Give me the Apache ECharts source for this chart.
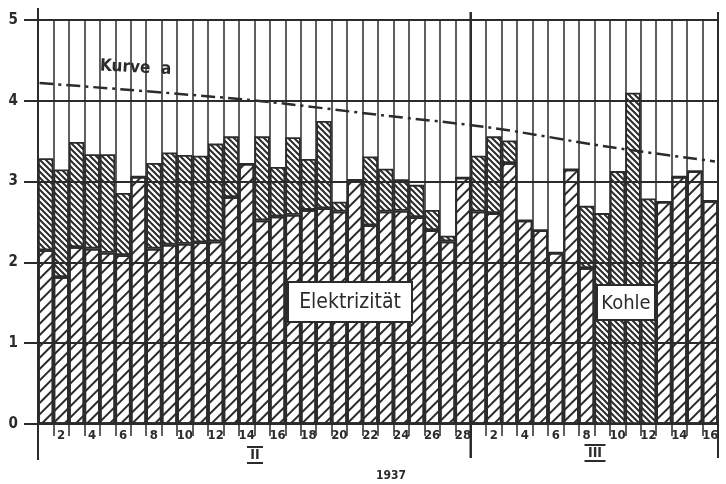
<!DOCTYPE html>
<html><head><meta charset="utf-8">
<script src="https://cdn.jsdelivr.net/npm/echarts@6/dist/echarts.min.js"></script>
<style>html,body{margin:0;padding:0;background:#fff}#c{width:726px;height:484px}</style>
</head><body><div id="c"></div>
<script>
// ---- data ----
const days = ['1','2','3','4','5','6','7','8','9','10','11','12','13','14','15','16','17','18','19','20','21','22','23','24','25','26','27','28',
              '1','2','3','4','5','6','7','8','9','10','11','12','13','14','15','16'];
const elektrizitaet = [2.15,1.82,2.19,2.17,2.12,2.09,3.06,2.17,2.22,2.23,2.25,2.26,2.81,3.22,2.52,2.57,2.59,2.65,2.67,2.63,3.02,2.46,2.63,2.64,2.56,2.40,2.26,3.05,
                       2.63,2.61,3.23,2.52,2.40,2.12,3.15,1.93,0,0,0,0,2.75,3.06,3.13,2.76];
const kohle = [1.14,1.33,1.30,1.17,1.22,0.77,0,1.06,1.14,1.10,1.07,1.21,0.75,0,1.04,0.61,0.96,0.63,1.08,0.12,0,0.85,0.53,0.39,0.40,0.25,0.07,0,
               0.69,0.95,0.28,0,0,0,0,0.77,2.61,3.13,4.10,2.79,0,0,0,0];
const kurveX = [0.1, 13.7, 22.3, 29.2, 36.9, 43.8];
const kurveY = [4.22, 4.01, 3.82, 3.67, 3.43, 3.25];
const yTicks = [0,1,2,3,4,5];
const months = ['II','III'];
const yearLabel = '1937';

// ---- chart ----
const INK = '#2b2b2b';
const FONT = 'DejaVu Sans Condensed';
const chart = echarts.init(document.getElementById('c'), null, {renderer:'canvas'});
const kurveData = kurveX.map((x,i)=>[x, kurveY[i]]);

function hatch(p, w){
  const c = document.createElement('canvas'); c.width = p; c.height = p;
  const g = c.getContext('2d'); g.strokeStyle = INK; g.lineWidth = w;
  g.beginPath();
  g.moveTo(-1, -1); g.lineTo(p+1, p+1);
  g.moveTo(p-1, -1); g.lineTo(p+1, 1);
  g.moveTo(-1, p-1); g.lineTo(1, p+1);
  g.stroke();
  return {image: c, repeat: 'repeat'};
}

chart.setOption({
  animation:false,
  backgroundColor:'#fff',
  grid:{left:38,right:8,top:20,bottom:60},
  xAxis:[{
    type:'category', data:days, boundaryGap:true,
    axisLine:{show:true,lineStyle:{color:INK,width:2}},
    axisTick:{show:true,interval:0,length:12,lineStyle:{color:INK,width:1.5}},
    axisLabel:{interval:(i,v)=>Number(v)%2===0, color:INK, fontFamily:FONT, fontWeight:'bold', fontSize:13, margin:5},
    splitLine:{show:true,interval:0,lineStyle:{color:INK,width:1.5}}
  },{
    type:'value', min:0, max:days.length, show:false
  }],
  yAxis:{
    type:'value', min:yTicks[0], max:yTicks[yTicks.length-1], interval:1,
    axisLine:{show:true,lineStyle:{color:INK,width:2}},
    axisTick:{show:true,length:14,lineStyle:{color:INK,width:2}},
    axisLabel:{color:INK,fontFamily:FONT,fontWeight:'bold',fontSize:15,margin:20,formatter:v=>String(v)},
    splitLine:{show:true,lineStyle:{color:INK,width:2}}
  },
  series:[{
    name:'Elektrizität', type:'bar', stack:'a', data:elektrizitaet, barWidth:'100%', barCategoryGap:'0%',
    itemStyle:{color:'rgba(255,255,255,0)',borderColor:INK,borderWidth:1.8,
      decal:{symbol:'rect',symbolSize:1,dashArrayX:[1,0],dashArrayY:[2,6],rotation:-Math.PI/4,color:INK,backgroundColor:'rgba(0,0,0,0)'}},
    z:2
  },{
    name:'Kohle', type:'bar', stack:'a', data:kohle, barWidth:'100%', barCategoryGap:'0%',
    itemStyle:{color:hatch(6,2),borderColor:INK,borderWidth:1.8},
    z:2
  },{
    name:'Kurve a', type:'line', xAxisIndex:1, data:kurveData, symbol:'none', smooth:0.3,
    lineStyle:{color:INK,width:2.5,type:[14,5,3,5]}, z:5
  }]
});

// ---- annotations ----
const x0 = chart.convertToPixel({xAxisIndex:1}, 0);
const x28 = chart.convertToPixel({xAxisIndex:1}, 28);
const xEnd = chart.convertToPixel({xAxisIndex:1}, days.length);
const yTop = chart.convertToPixel({yAxisIndex:0}, 5);
const yBot = chart.convertToPixel({yAxisIndex:0}, 0);
function vline(x, y1, y2, w){return {type:'line',shape:{x1:x,y1:y1,x2:x,y2:y2},style:{stroke:INK,lineWidth:w},z:20};}
function roman(t, cx, cy){
  const w = t.length*5+6;
  return [
    {type:'text',x:cx,y:cy,style:{text:t,fill:INK,font:'bold 14px '+FONT,align:'center',verticalAlign:'middle'},z:20},
    {type:'line',shape:{x1:cx-w/2,y1:cy-8,x2:cx+w/2,y2:cy-8},style:{stroke:INK,lineWidth:2},z:20},
    {type:'line',shape:{x1:cx-w/2,y1:cy+8,x2:cx+w/2,y2:cy+8},style:{stroke:INK,lineWidth:2},z:20}
  ];
}
function box(t, x, y, w, h, fs){
  return [
    {type:'rect',shape:{x:x,y:y,width:w,height:h},style:{fill:'#fff',stroke:INK,lineWidth:2},z:20},
    {type:'text',x:x+w/2,y:y+h/2+1,style:{text:t,fill:INK,font:fs+'px '+FONT,align:'center',verticalAlign:'middle'},z:21}
  ];
}
chart.setOption({graphic:[
  vline(x0, yTop-12, yBot+36, 2),
  vline(x28, yTop-8, yBot+34, 2.5),
  vline(xEnd, yTop-8, yBot+34, 2),
  ...box('Elektrizität', 288, 282, 124, 40, 21),
  ...box('Kohle', 597, 285, 58, 35, 20),
  {type:'text',x:100,y:66,rotation:-0.05,style:{text:'Kurve  a',fill:INK,font:'bold 17px '+FONT,align:'left',verticalAlign:'middle'},z:20},
  ...roman(months[0], 255, 455),
  ...roman(months[1], 595, 453),
  {type:'text',x:391,y:476,style:{text:yearLabel,fill:INK,font:'bold 12px '+FONT,align:'center',verticalAlign:'middle'},z:20}
]});
</script>
</body></html>
